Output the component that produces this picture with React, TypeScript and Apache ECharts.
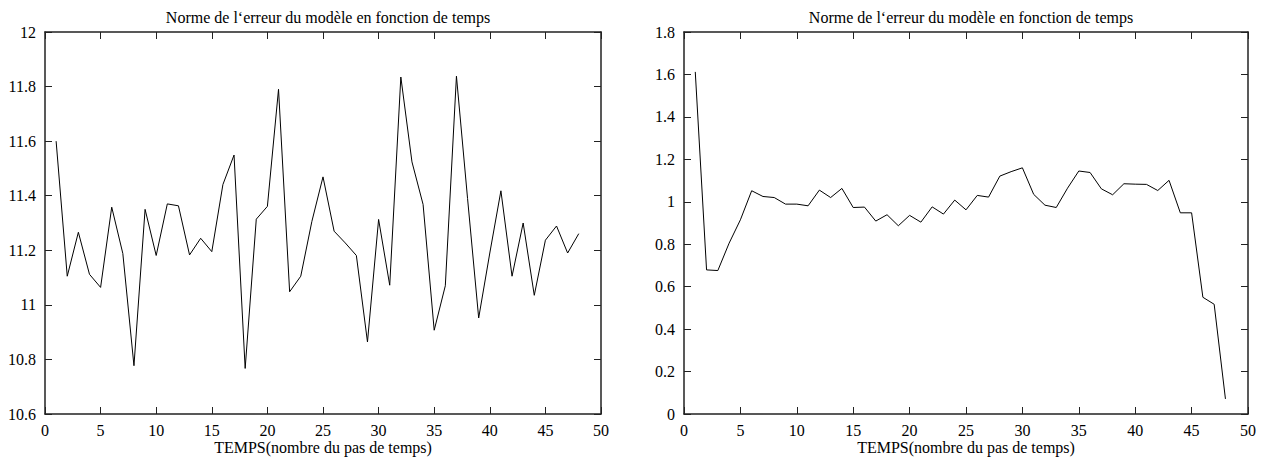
import React, { useEffect, useRef } from "react";
import * as echarts from "echarts";

const chartTitle = "Norme de l‘erreur du modèle en fonction de temps";
const xAxisName = "TEMPS(nombre du pas de temps)";

const timeSteps = [
  1, 2, 3, 4, 5, 6, 7, 8, 9, 10, 11, 12, 13, 14, 15, 16, 17, 18, 19, 20, 21, 22, 23, 24,
  25, 26, 27, 28, 29, 30, 31, 32, 33, 34, 35, 36, 37, 38, 39, 40, 41, 42, 43, 44, 45, 46, 47, 48,
];

const leftErr = [
  11.6, 11.105, 11.266, 11.112, 11.064, 11.358, 11.188, 10.777, 11.35, 11.181, 11.37, 11.363,
  11.183, 11.244, 11.195, 11.441, 11.549, 10.767, 11.314, 11.361, 11.79, 11.048, 11.105, 11.306,
  11.469, 11.27, 11.227, 11.181, 10.864, 11.313, 11.072, 11.835, 11.524, 11.368, 10.907, 11.07,
  11.838, 11.39, 10.952, 11.19, 11.418, 11.105, 11.3, 11.035, 11.237, 11.289, 11.19, 11.261,
];

const rightErr = [
  1.612, 0.679, 0.676, 0.805, 0.915, 1.052, 1.025, 1.02, 0.989, 0.989, 0.981, 1.055,
  1.02, 1.063, 0.973, 0.975, 0.909, 0.939, 0.887, 0.936, 0.904, 0.976, 0.942, 1.008,
  0.962, 1.03, 1.022, 1.121, 1.142, 1.16, 1.035, 0.984, 0.973, 1.064, 1.145, 1.138,
  1.061, 1.033, 1.085, 1.083, 1.082, 1.053, 1.101, 0.948, 0.948, 0.55, 0.517, 0.071,
];

const xRange = { min: 0, max: 50, interval: 5 };
const leftYRange = { min: 10.6, max: 12, interval: 0.2 };
const rightYRange = { min: 0, max: 1.8, interval: 0.2 };

const FONT = "Times New Roman, Liberation Serif, DejaVu Serif, serif";

export default function App() {
  const ref = useRef<HTMLDivElement>(null);

  useEffect(() => {
    if (!ref.current) return;
    const chart = echarts.init(ref.current, null, { renderer: "svg" });

    const lineStyleAxis = { color: "#222", width: 1.5 };
    const tick = { show: true, inside: true, length: 7, lineStyle: { color: "#222", width: 1 } };
    const label = { fontFamily: FONT, fontSize: 16, color: "#000" };
    const fmt = (v: number) => String(+v.toFixed(1));

    const grids = [
      { left: 45, top: 32, width: 556, height: 382, containLabel: false, outerBoundsMode: "none" },
      { left: 684, top: 32, width: 564, height: 382, containLabel: false, outerBoundsMode: "none" },
    ];

    const xAxes: any[] = [];
    const yAxes: any[] = [];
    [0, 1].forEach((g) => {
      xAxes.push({
        type: "value",
        gridIndex: g,
        position: "bottom",
        ...xRange,
        name: xAxisName,
        nameLocation: "middle",
        nameGap: 25,
        nameMoveOverlap: false,
        nameTextStyle: { fontFamily: FONT, fontSize: 16, color: "#000", lineHeight: 16 },
        axisLine: { show: true, onZero: false, lineStyle: lineStyleAxis },
        axisTick: tick,
        axisLabel: { ...label, lineHeight: 16, margin: 8, formatter: fmt },
        splitLine: { show: false },
      });
      xAxes.push({
        type: "value",
        gridIndex: g,
        position: "top",
        ...xRange,
        axisLine: { show: true, onZero: false, lineStyle: lineStyleAxis },
        axisTick: tick,
        axisLabel: { show: false },
        splitLine: { show: false },
      });
      const yr = g === 0 ? leftYRange : rightYRange;
      yAxes.push({
        type: "value",
        gridIndex: g,
        position: "left",
        ...yr,
        axisLine: { show: true, onZero: false, lineStyle: lineStyleAxis },
        axisTick: tick,
        axisLabel: { ...label, margin: 9, formatter: fmt },
        splitLine: { show: false },
      });
      yAxes.push({
        type: "value",
        gridIndex: g,
        position: "right",
        ...yr,
        axisLine: { show: true, onZero: false, lineStyle: lineStyleAxis },
        axisTick: tick,
        axisLabel: { show: false },
        splitLine: { show: false },
      });
    });

    chart.setOption({
      animation: false,
      backgroundColor: "#fff",
      textStyle: { fontFamily: FONT },
      title: [
        {
          text: chartTitle,
          left: 323,
          top: 4,
          textAlign: "center",
          textStyle: { fontFamily: FONT, fontSize: 16, fontWeight: "normal", color: "#000" },
        },
        {
          text: chartTitle,
          left: 966,
          top: 4,
          textAlign: "center",
          textStyle: { fontFamily: FONT, fontSize: 16, fontWeight: "normal", color: "#000" },
        },
      ],
      grid: grids,
      xAxis: xAxes,
      yAxis: yAxes,
      series: [
        {
          type: "line",
          xAxisIndex: 0,
          yAxisIndex: 0,
          data: timeSteps.map((t, i) => [t, leftErr[i]]),
          showSymbol: false,
          symbol: "none",
          lineStyle: { color: "#000", width: 1 },
        },
        {
          type: "line",
          xAxisIndex: 2,
          yAxisIndex: 2,
          data: timeSteps.map((t, i) => [t, rightErr[i]]),
          showSymbol: false,
          symbol: "none",
          lineStyle: { color: "#000", width: 1 },
        },
      ],
    });

    return () => chart.dispose();
  }, []);

  return (
    <div
      ref={ref}
      style={{ position: "fixed", left: 0, top: 0, width: 1265, height: 461, background: "#fff" }}
    />
  );
}
